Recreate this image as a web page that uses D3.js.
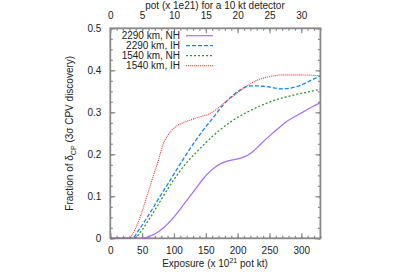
<!DOCTYPE html>
<html><head><meta charset="utf-8">
<script src="https://cdn.jsdelivr.net/npm/d3@7"></script>
<style>body{margin:0;background:#fff}svg{display:block}text{font-family:"Liberation Sans",Arial,sans-serif;fill:#222}</style>
</head><body><svg id="c" width="400" height="279"></svg>
<script>
const seriesNames = ["2290 km, NH", "2290 km, IH", "1540 km, NH", "1540 km, IH"];
const nh2290 = [[0,0],[45,0],[55,0.002],[65,0.007],[75,0.015],[85,0.027],[95,0.042],[105,0.06],[115,0.08],[125,0.1],[135,0.12],[145,0.14],[155,0.157],[165,0.17],[175,0.179],[190,0.186],[205,0.191],[215,0.197],[225,0.208],[238,0.227],[251,0.245],[264,0.262],[277,0.278],[290,0.29],[303,0.301],[316,0.312],[330,0.323]];
const ih2290 = [[0,0],[34,0],[45,0.02],[55,0.043],[65,0.067],[78,0.1],[91,0.131],[104,0.163],[117,0.194],[130,0.224],[146,0.258],[162,0.288],[172,0.308],[183,0.327],[193,0.341],[205,0.354],[214,0.361],[225,0.363],[240,0.362],[255,0.359],[266,0.356],[280,0.357],[292,0.361],[303,0.367],[315,0.376],[330,0.387]];
const nh1540 = [[0,0],[37,0],[50,0.02],[60,0.043],[70,0.067],[83,0.1],[96,0.131],[109,0.159],[122,0.184],[136,0.206],[149,0.226],[160,0.242],[172,0.258],[188,0.276],[200,0.288],[217,0.302],[235,0.315],[251,0.325],[265,0.332],[277,0.337],[290,0.342],[303,0.346],[315,0.35],[330,0.355]];
const ih1540 = [[0,0],[29,0],[40,0.025],[47,0.051],[55,0.088],[62,0.122],[70,0.16],[76,0.188],[83,0.224],[90,0.244],[96,0.256],[104,0.267],[112,0.274],[125,0.281],[140,0.289],[155,0.296],[165,0.305],[177,0.32],[190,0.335],[200,0.347],[216,0.364],[230,0.376],[250,0.385],[270,0.389],[300,0.389],[330,0.387]];
const xTicks = [0,50,100,150,200,250,300];
const x2Ticks = [0,5,10,15,20,25,30];
const yTicks = [0,0.1,0.2,0.3,0.4,0.5];

const svg = d3.select("#c");
const L=110.3, R=320.4, T=28.3, B=238.3;
const x = d3.scaleLinear().domain([0,330]).range([L,R]);
const x2 = d3.scaleLinear().domain([0,33]).range([L,R]);
const y = d3.scaleLinear().domain([0,0.5]).range([B,T]);

svg.append("clipPath").attr("id","clip").append("rect").attr("x",L).attr("y",T-1).attr("width",R-L).attr("height",B-T+1);

const axCol="#888";
const FS="10px";
function styleAxis(g){g.select(".domain").remove();g.selectAll("line").attr("stroke",axCol).attr("stroke-width",1.2);g.selectAll("text").attr("font-size",FS).attr("fill","#222").attr("font-family","'Liberation Sans',Arial,sans-serif");}
svg.append("g").attr("transform",`translate(0,${B})`).call(d3.axisBottom(x).tickValues(d3.range(0,331,10)).tickSize(-2.5).tickFormat("")).call(styleAxis);
svg.append("g").attr("transform",`translate(0,${B})`).call(d3.axisBottom(x).tickValues(xTicks).tickSize(-5).tickPadding(9).tickFormat(d3.format("d"))).call(styleAxis);
svg.append("g").attr("transform",`translate(0,${T})`).call(d3.axisTop(x2).tickValues(d3.range(0,33.1,1)).tickSize(-2.5).tickFormat("")).call(styleAxis);
svg.append("g").attr("transform",`translate(0,${T})`).call(d3.axisTop(x2).tickValues(x2Ticks).tickSize(-5).tickPadding(9).tickFormat(d3.format("d"))).call(styleAxis);
svg.append("g").attr("transform",`translate(${L},0)`).call(d3.axisLeft(y).tickValues(d3.range(0,0.5001,0.025)).tickSize(-2.5).tickFormat("")).call(styleAxis);
svg.append("g").attr("transform",`translate(${L},0)`).call(d3.axisLeft(y).tickValues(yTicks).tickSize(-5).tickPadding(9).tickFormat(d=>d===0?"0":d3.format(".1f")(d))).call(styleAxis);
svg.append("g").attr("transform",`translate(${R},0)`).call(d3.axisRight(y).tickValues(d3.range(0,0.5001,0.025)).tickSize(-2.5).tickFormat("")).call(styleAxis);
svg.append("g").attr("transform",`translate(${R},0)`).call(d3.axisRight(y).tickValues(yTicks).tickSize(-5).tickFormat("")).call(styleAxis);
svg.append("rect").attr("x",L).attr("y",T).attr("width",R-L).attr("height",B-T).attr("fill","none").attr("stroke",axCol).attr("stroke-width",1.8);

const styles = [
 {data:nh2290,color:"#a66cff",dash:null,w:1.2},
 {data:ih2290,color:"#1a86f0",dash:"4,2",w:1.3},
 {data:nh1540,color:"#2a9a2a",dash:"2,2",w:1.3},
 {data:ih1540,color:"#ff3030",dash:"1,1",w:1.1}
];
const line = d3.line().x(d=>x(d[0])).y(d=>y(d[1])).curve(d3.curveMonotoneX);
const plot = svg.append("g").attr("clip-path","url(#clip)");
styles.forEach(s=>{
  plot.append("path").attr("d",line(s.data)).attr("fill","none").attr("stroke",s.color).attr("stroke-width",s.w).attr("stroke-dasharray",s.dash);
});
const leg = svg.append("g");
styles.forEach((s,i)=>{
  const yy = 35.7 + i*10;
  leg.append("text").attr("x",180).attr("y",yy).attr("dy","0.35em").attr("text-anchor","end").attr("font-size",FS).text(seriesNames[i]);
  leg.append("line").attr("x1",186).attr("x2",213).attr("y1",yy).attr("y2",yy).attr("stroke",s.color).attr("stroke-width",s.w).attr("stroke-dasharray",s.dash);
});
svg.append("text").attr("x",215).attr("y",9).attr("text-anchor","middle").attr("font-size",FS).text("pot (x 1e21) for a 10 kt detector");
const xl = svg.append("text").attr("x",215).attr("y",267).attr("text-anchor","middle").attr("font-size",FS);
xl.append("tspan").text("Exposure (x 10");
xl.append("tspan").attr("dy",-4).attr("font-size","7px").text("21");
xl.append("tspan").attr("dy",4).text(" pot kt)");
const yl = svg.append("text").attr("transform",`translate(73,${(T+B)/2}) rotate(-90)`).attr("text-anchor","middle").attr("font-size",FS);
yl.append("tspan").text("Fraction of δ");
yl.append("tspan").attr("dy",3).attr("font-size","7px").text("CP");
yl.append("tspan").attr("dy",-3).text(" (3σ CPV discovery)");
</script></body></html>
